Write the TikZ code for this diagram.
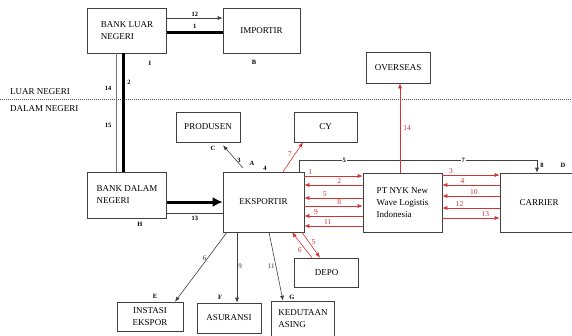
\documentclass[tikz,border=0pt]{standalone}
\usepackage{fontspec}
\setmainfont{Liberation Serif}
\usepackage{xcolor}
\definecolor{flowred}{RGB}{208,52,52}
\usetikzlibrary{arrows.meta,calc}

\begin{document}
\begin{tikzpicture}[x=1pt,y=-1pt,>={Latex[length=5pt,width=4pt]},
  box/.style={draw=black!75, line width=0.6pt, align=left, inner sep=0pt,
    font=\fontsize{9}{12}\selectfont},
  num/.style={font=\bfseries\fontsize{6.5}{7}\selectfont, inner sep=1pt},
  numlight/.style={font=\fontsize{7}{8}\selectfont, text=black!80, inner sep=1pt},
  rednum/.style={font=\fontsize{7.5}{8}\selectfont, text=flowred, inner sep=1pt},
  tag/.style={font=\bfseries\fontsize{6.5}{7}\selectfont, inner sep=1pt},
  link/.style={draw=black!75, line width=0.6pt},
  redlink/.style={draw=flowred, line width=0.6pt}]

\useasboundingbox (0,0) rectangle (572,335);

% Luar negeri / dalam negeri
\draw[black!70, dash pattern=on 1.2pt off 0.8pt] (0,99) -- (572,99);
\node[anchor=base west, inner sep=0pt, font=\fontsize{9}{10}\selectfont] (luar) at (10,94) {LUAR NEGERI};
\node[anchor=base west, inner sep=0pt, font=\fontsize{9}{10}\selectfont] (dalam) at (10,111) {DALAM NEGERI};

% Boxes
\node[box, minimum width=79pt, minimum height=45pt] (bankluar) at (127,30.5) {BANK LUAR\\NEGERI};
\node[box, minimum width=77pt, minimum height=45pt] (importir) at (261.5,30.5) {IMPORTIR};
\node[box, minimum width=79pt, minimum height=46pt] (bankdalam) at (127,195) {BANK DALAM\\NEGERI};
\node[box, minimum width=81pt, minimum height=60pt] (ekspor) at (263.5,202) {EKSPORTIR};
\node[box, minimum width=64pt, minimum height=30pt] (produsen) at (208,127) {PRODUSEN};
\node[box, minimum width=63pt, minimum height=30pt] (cy) at (325.5,127) {CY};
\node[box, minimum width=64pt, minimum height=31pt] (overseas) at (398,67.5) {OVERSEAS};
\node[box, minimum width=79pt, minimum height=59pt] (nyk) at (402.5,202.5) {PT NYK New\\Wave Logistis\\Indonesia};
\node[box, minimum width=78pt, minimum height=59pt] (carrier) at (539,202.5) {CARRIER};
\node[box, minimum width=64pt, minimum height=29pt] (depo) at (326.5,272.5) {DEPO};
\node[box, align=center, minimum width=66pt, minimum height=29pt] (instasi) at (150,316.5) {INSTASI\\EKSPOR};
\node[box, minimum width=64pt, minimum height=30pt] (asuransi) at (229,318) {ASURANSI};
\node[box, minimum width=63pt, minimum height=35pt] (kedutaan) at (303,318.5) {KEDUTAAN\\ASING};

% Letters
\node[tag] (tagI) at (150,63) {I};
\node[tag] (tagB) at (254,62) {B};
\node[tag] (tagC) at (213,148) {C};
\node[tag] (tagA) at (252,163) {A};
\node[tag] (tagD) at (563,165) {D};
\node[tag] (tagH) at (140,224) {H};
\node[tag] (tagE) at (155,296) {E};
\node[tag] (tagF) at (220,297) {F};
\node[tag] (tagG) at (292,297) {G};

% Bank luar negeri - importir
\draw[link,->] (bankluar.east |- 0,18) -- node[num,above]{12} (importir.west |- 0,18);
\draw[line width=3pt] (bankluar.east |- 0,32) -- node[num,above=1.5pt]{1} (importir.west |- 0,32);

% Bank luar negeri - bank dalam negeri
\draw[black!55, line width=0.8pt] (116,0 |- bankluar.south) -- (116,0 |- bankdalam.north);
\draw[line width=3pt] (123,0 |- bankluar.south) -- (123,0 |- bankdalam.north);
\node[num] (n14) at (108,88) {14};
\node[num] (n2) at (129,82) {2};
\node[num] (n15) at (108,125) {15};

% Bank dalam negeri - eksportir
\draw[line width=3pt, -{Latex[length=10pt,width=10pt]}] (bankdalam.east |- 0,202) -- (ekspor.west |- 0,202);
\draw[link] (bankdalam.east |- 0,213) -- node[num,below=1.5pt]{13} (ekspor.west |- 0,213);

% Eksportir - produsen, CY
\coordinate (a3) at (243,168);
\draw[link,->] (a3) -- node[num,right,pos=0.35]{3} ($(produsen.south)+(15,3)$);
\node[num] (n4) at (265,168) {4};
\draw[redlink,->] (283,0 |- ekspor.north) -- node[rednum,left=2pt,pos=0.6]{7} (303,0 |- cy.south);

% Eksportir - carrier
\draw[link,->] (299,0 |- ekspor.north) -- (299,160)
  -- node[num,fill=white,pos=0.19]{5} node[num,fill=white,pos=0.69]{7} (537,160)
  -- (537,0 |- carrier.north);
\node[num] (n8) at (542,165) {8};

% Eksportir - PT NYK
\foreach \y/\t/\p in {176/1/0.1, 206/8/0.6}
  \draw[redlink,->] (ekspor.east |- 0,\y) -- node[rednum,above,pos=\p]{\t} (nyk.west |- 0,\y);
\foreach \y/\t/\p in {185/2/0.6, 198/5/0.35, 216/9/0.2, 226/11/0.4}
  \draw[redlink,<-] (ekspor.east |- 0,\y) -- node[rednum,above,pos=\p]{\t} (nyk.west |- 0,\y);

% PT NYK - carrier
\foreach \y/\t/\p in {175/3/0.15, 218/13/0.75}
  \draw[redlink,->] (nyk.east |- 0,\y) -- node[rednum,above,pos=\p]{\t} (carrier.west |- 0,\y);
\foreach \y/\t/\p in {185/4/0.35, 196/10/0.55, 208/12/0.3}
  \draw[redlink,<-] (nyk.east |- 0,\y) -- node[rednum,above,pos=\p]{\t} (carrier.west |- 0,\y);

% PT NYK - overseas
\draw[redlink,->] (400,0 |- nyk.north) -- node[rednum,right=2pt]{14} (400,0 |- overseas.south);

% Eksportir - depo
\draw[redlink,->] (302,0 |- ekspor.south) -- node[rednum,right=1pt,pos=0.4]{5} (320,0 |- depo.north);
\draw[redlink,->] (312,0 |- depo.north) -- node[rednum,left=3pt,pos=0.3]{6} (292,0 |- ekspor.south);

% Eksportir - instansi, asuransi, kedutaan
\draw[link,->] (227,0 |- ekspor.south) -- node[numlight,left,pos=0.37]{6} (175,0 |- instasi.north);
\draw[link,->] (237,0 |- ekspor.south) -- node[numlight,right,pos=0.48]{9} (237,0 |- asuransi.north);
\draw[link,->] (269,0 |- ekspor.south) -- node[numlight,left=0pt,pos=0.5]{11} (283,0 |- kedutaan.north);

\end{tikzpicture}
\end{document}
